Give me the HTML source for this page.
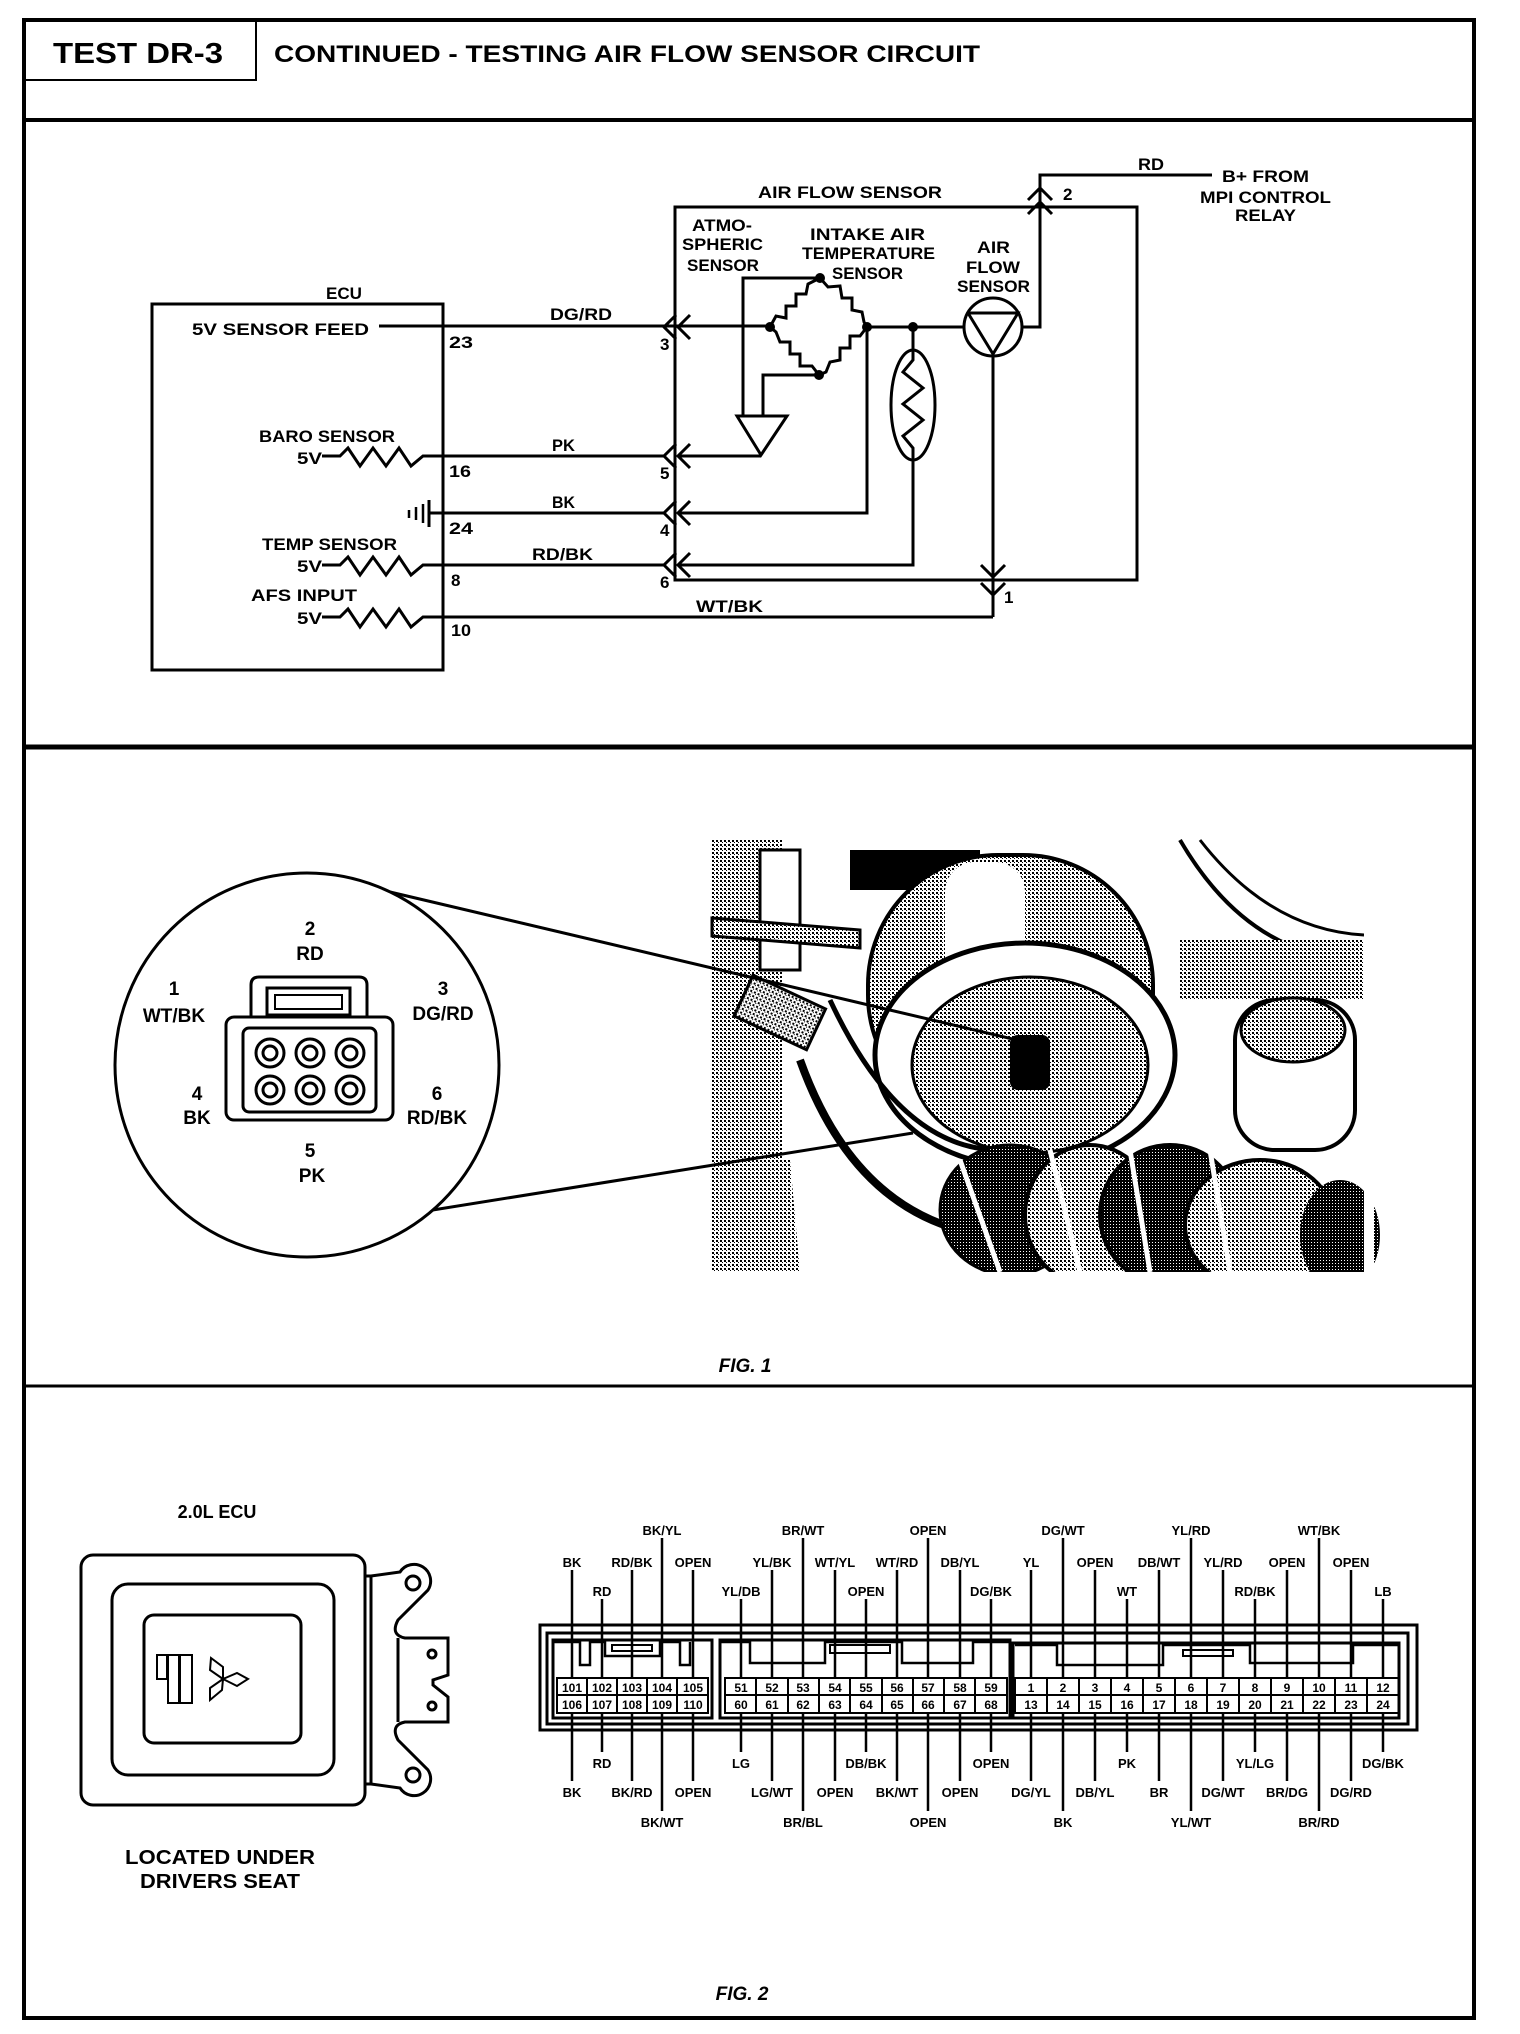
<!DOCTYPE html>
<html><head><meta charset="utf-8"><style>
html,body{margin:0;padding:0;background:#fff}
svg{display:block}
text{font-family:"Liberation Sans",sans-serif;font-weight:bold;fill:#000}
.c{font-size:17px}
.l{font-size:13px}
</style></head><body>
<svg width="1520" height="2034" viewBox="0 0 1520 2034" xmlns="http://www.w3.org/2000/svg">
<defs>
<pattern id="st" width="4" height="4" patternUnits="userSpaceOnUse"><rect width="4" height="4" fill="#fff"/><rect width="2" height="2" fill="#000"/><rect x="2" y="2" width="1" height="1" fill="#000"/></pattern>
<pattern id="dk" width="3" height="3" patternUnits="userSpaceOnUse"><rect width="3" height="3" fill="#000"/><rect width="1" height="1" fill="#fff"/></pattern>
</defs>
<!-- frame -->
<g fill="none" stroke="#000">
<rect x="24" y="20" width="1450" height="1998" stroke-width="4"/>
<line x1="24" y1="120" x2="1474" y2="120" stroke-width="4"/>
<line x1="24" y1="747" x2="1474" y2="747" stroke-width="5"/>
<line x1="24" y1="1386" x2="1474" y2="1386" stroke-width="3"/>
<polyline points="24,80 256,80 256,20" stroke-width="2"/>
</g>
<text x="53" y="63" font-size="29" textLength="170" lengthAdjust="spacingAndGlyphs">TEST DR-3</text>
<text x="274" y="62" font-size="24" textLength="706" lengthAdjust="spacingAndGlyphs">CONTINUED - TESTING AIR FLOW SENSOR CIRCUIT</text>

<!-- circuit -->
<g fill="none" stroke="#000" stroke-width="3">
<rect x="152" y="304" width="291" height="366"/>
<rect x="675" y="207" width="462" height="373"/>
<!-- wires -->
<line x1="379" y1="326" x2="770" y2="326"/>
<polyline points="322,456 340,456 348,448 360,466 373,448 386,466 399,448 411,466 423,456 664,456"/>
<polyline points="322,565 340,565 348,557 360,575 373,557 386,575 399,557 411,575 423,565 664,565"/>
<polyline points="322,617 340,617 348,609 360,627 373,609 386,627 399,609 411,627 423,617 993,617"/>
<line x1="429" y1="513" x2="664" y2="513"/>
<polyline points="678,456 761,456"/>
<polyline points="678,513 867,513 867,327"/>
<polyline points="678,565 913,565 913,460"/>
<polyline points="867,327 964,327"/>
<polyline points="913,327 913,350"/>
<polyline points="1022,327 1040,327 1040,175 1212,175"/>
<line x1="993" y1="356" x2="993" y2="617"/>
<polyline points="820,278 743,278 743,416"/>
<polyline points="819,375 763,375 763,416"/>
<polygon points="737,416 787,416 761,455"/>
<!-- bridge zigzag -->
<polyline points="770,327 776,316 786,318 786,306 796,306 796,294 806,294 808,284 820,278"/>
<polyline points="820,278 828,287 840,286 842,298 852,298 852,310 862,312 864,322 867,327"/>
<polyline points="867,327 860,336 850,336 850,348 840,348 840,360 830,362 826,372 819,375"/>
<polyline points="819,375 812,366 800,366 800,354 790,354 790,342 780,342 776,332 770,327"/>
<circle cx="993" cy="327" r="29"/>
<polyline points="968,313 1018,313 993,354 968,313"/>
<ellipse cx="913" cy="405" rx="22" ry="55"/>
<polyline points="913,350 913,360 903,372 923,388 903,404 923,420 903,436 913,448 913,460"/>
<!-- chevrons -->
<g stroke-width="3">
<path d="M676,315 L664,327 L676,339 M690,315 L678,327 L690,339"/>
<path d="M676,444 L664,456 L676,468 M690,444 L678,456 L690,468"/>
<path d="M676,501 L664,513 L676,525 M690,501 L678,513 L690,525"/>
<path d="M676,553 L664,565 L676,577 M690,553 L678,565 L690,577"/>
<path d="M1028,200 L1040,188 L1052,200 M1028,214 L1040,202 L1052,214"/>
<path d="M981,565 L993,577 L1005,565 M981,583 L993,595 L1005,583"/>
</g>
<!-- ground -->
<line x1="429" y1="500" x2="429" y2="527"/>
<line x1="423" y1="504" x2="423" y2="523" stroke-width="2.5"/>
<line x1="416" y1="507" x2="416" y2="520" stroke-width="2.5"/>
<line x1="409" y1="510" x2="409" y2="518" stroke-width="2.5"/>
</g>
<g fill="#000">
<circle cx="770" cy="327" r="5"/><circle cx="820" cy="278" r="5"/><circle cx="867" cy="327" r="5"/><circle cx="819" cy="375" r="5"/><circle cx="913" cy="327" r="5"/>
</g>
<g class="c">
<text x="326" y="299" textLength="36" lengthAdjust="spacingAndGlyphs">ECU</text>
<text x="192" y="335" textLength="177" lengthAdjust="spacingAndGlyphs">5V SENSOR FEED</text>
<text x="449" y="348" textLength="24" lengthAdjust="spacingAndGlyphs">23</text>
<text x="550" y="320" textLength="62" lengthAdjust="spacingAndGlyphs">DG/RD</text>
<text x="259" y="442" textLength="136" lengthAdjust="spacingAndGlyphs">BARO SENSOR</text>
<text x="297" y="464" textLength="25" lengthAdjust="spacingAndGlyphs">5V</text>
<text x="449" y="477" textLength="22" lengthAdjust="spacingAndGlyphs">16</text>
<text x="552" y="451" textLength="23" lengthAdjust="spacingAndGlyphs">PK</text>
<text x="449" y="534" textLength="24" lengthAdjust="spacingAndGlyphs">24</text>
<text x="552" y="508" textLength="23" lengthAdjust="spacingAndGlyphs">BK</text>
<text x="262" y="550" textLength="135" lengthAdjust="spacingAndGlyphs">TEMP SENSOR</text>
<text x="297" y="572" textLength="25" lengthAdjust="spacingAndGlyphs">5V</text>
<text x="451" y="586">8</text>
<text x="532" y="560" textLength="61" lengthAdjust="spacingAndGlyphs">RD/BK</text>
<text x="251" y="601" textLength="106" lengthAdjust="spacingAndGlyphs">AFS INPUT</text>
<text x="297" y="624" textLength="25" lengthAdjust="spacingAndGlyphs">5V</text>
<text x="451" y="636" textLength="20" lengthAdjust="spacingAndGlyphs">10</text>
<text x="696" y="612" textLength="67" lengthAdjust="spacingAndGlyphs">WT/BK</text>
<text x="1004" y="603">1</text>
<text x="660" y="350">3</text>
<text x="660" y="479">5</text>
<text x="660" y="536">4</text>
<text x="660" y="588">6</text>
<text x="758" y="198" textLength="184" lengthAdjust="spacingAndGlyphs">AIR FLOW SENSOR</text>
<text x="1063" y="200">2</text>
<text x="1138" y="170" textLength="26" lengthAdjust="spacingAndGlyphs">RD</text>
<text x="1222" y="182" textLength="87" lengthAdjust="spacingAndGlyphs">B+ FROM</text>
<text x="1200" y="203" textLength="131" lengthAdjust="spacingAndGlyphs">MPI CONTROL</text>
<text x="1235" y="221" textLength="61" lengthAdjust="spacingAndGlyphs">RELAY</text>
<text x="692" y="231" textLength="60" lengthAdjust="spacingAndGlyphs">ATMO-</text>
<text x="682" y="250" textLength="81" lengthAdjust="spacingAndGlyphs">SPHERIC</text>
<text x="687" y="271" textLength="72" lengthAdjust="spacingAndGlyphs">SENSOR</text>
<text x="810" y="240" textLength="115" lengthAdjust="spacingAndGlyphs">INTAKE AIR</text>
<text x="802" y="259" textLength="133" lengthAdjust="spacingAndGlyphs">TEMPERATURE</text>
<text x="832" y="279" textLength="71" lengthAdjust="spacingAndGlyphs">SENSOR</text>
<text x="977" y="253" textLength="33" lengthAdjust="spacingAndGlyphs">AIR</text>
<text x="966" y="273" textLength="54" lengthAdjust="spacingAndGlyphs">FLOW</text>
<text x="957" y="292" textLength="73" lengthAdjust="spacingAndGlyphs">SENSOR</text>
</g>

<!-- FIG 1 photo -->
<g>
<rect x="710" y="838" width="654" height="434" fill="#fff"/>
<rect x="712" y="840" width="70" height="430" fill="url(#st)"/>
<rect x="760" y="850" width="40" height="120" fill="#fff" stroke="#000" stroke-width="3"/>
<polygon points="712,918 860,930 860,948 712,936" fill="url(#st)" stroke="#000" stroke-width="3"/>
<polygon points="712,1150 790,1160 800,1272 712,1272" fill="url(#st)"/>
<rect x="740" y="990" width="80" height="45" fill="url(#st)" stroke="#000" stroke-width="3" transform="rotate(25 780 1012)"/>
<rect x="850" y="850" width="130" height="40" fill="#000"/>
<rect x="868" y="855" width="285" height="270" rx="130" fill="url(#st)" stroke="#000" stroke-width="4"/>
<rect x="945" y="862" width="80" height="140" rx="30" fill="#fff"/>
<path d="M1180,840 Q1250,960 1364,960" fill="none" stroke="#000" stroke-width="4"/>
<path d="M1200,840 Q1270,930 1364,935" fill="none" stroke="#000" stroke-width="3"/>
<rect x="1180" y="940" width="184" height="60" fill="url(#st)"/>
<ellipse cx="1025" cy="1055" rx="150" ry="112" fill="#fff" stroke="#000" stroke-width="5"/>
<ellipse cx="1030" cy="1065" rx="118" ry="88" fill="url(#st)" stroke="#000" stroke-width="3"/>
<rect x="1010" y="1035" width="40" height="55" rx="8" fill="#000"/>
<rect x="1235" y="1000" width="120" height="150" rx="40" fill="#fff" stroke="#000" stroke-width="4"/>
<ellipse cx="1293" cy="1030" rx="52" ry="32" fill="url(#st)" stroke="#000" stroke-width="3"/>
<path d="M800,1060 Q850,1200 960,1230" fill="none" stroke="#000" stroke-width="8"/>
<path d="M830,1000 Q900,1150 1000,1150" fill="none" stroke="#000" stroke-width="5"/>
<ellipse cx="1010" cy="1210" rx="70" ry="65" fill="url(#dk)" stroke="#000" stroke-width="3"/>
<ellipse cx="1090" cy="1215" rx="65" ry="70" fill="url(#st)" stroke="#000" stroke-width="4"/>
<ellipse cx="1170" cy="1215" rx="70" ry="70" fill="url(#dk)" stroke="#000" stroke-width="4"/>
<ellipse cx="1260" cy="1225" rx="75" ry="65" fill="url(#st)" stroke="#000" stroke-width="4"/>
<ellipse cx="1340" cy="1235" rx="40" ry="55" fill="url(#dk)"/>
<path d="M960,1160 L1000,1272 M1050,1150 L1080,1272 M1130,1150 L1150,1272 M1210,1150 L1230,1272" stroke="#fff" stroke-width="5"/>
<rect x="1364" y="838" width="10" height="440" fill="#fff"/>
<rect x="700" y="1272" width="680" height="20" fill="#fff"/>
</g>
<g fill="none" stroke="#000">
<line x1="390" y1="892" x2="1017" y2="1040" stroke-width="3"/>
<line x1="383" y1="1218" x2="913" y2="1133" stroke-width="3"/>
<circle cx="307" cy="1065" r="192" stroke-width="3" fill="#fff"/>
<rect x="226" y="1017" width="167" height="103" rx="8" stroke-width="3" fill="#fff"/>
<path d="M251,1017 V985 Q251,977 259,977 H359 Q367,977 367,985 V1017" stroke-width="3"/>
<rect x="267" y="988" width="83" height="27" stroke-width="3"/>
<rect x="275" y="995" width="67" height="14" stroke-width="2"/>
<rect x="243" y="1028" width="133" height="84" rx="6" stroke-width="3"/>
<g stroke-width="3">
<circle cx="270" cy="1053" r="14"/><circle cx="310" cy="1053" r="14"/><circle cx="350" cy="1053" r="14"/>
<circle cx="270" cy="1090" r="14"/><circle cx="310" cy="1090" r="14"/><circle cx="350" cy="1090" r="14"/>
<circle cx="270" cy="1053" r="7"/><circle cx="310" cy="1053" r="7"/><circle cx="350" cy="1053" r="7"/>
<circle cx="270" cy="1090" r="7"/><circle cx="310" cy="1090" r="7"/><circle cx="350" cy="1090" r="7"/>
</g>
</g>
<g font-size="19" text-anchor="middle">
<text x="310" y="935">2</text><text x="310" y="960">RD</text>
<text x="174" y="995">1</text><text x="174" y="1022">WT/BK</text>
<text x="443" y="995">3</text><text x="443" y="1020">DG/RD</text>
<text x="197" y="1100">4</text><text x="197" y="1124">BK</text>
<text x="437" y="1100">6</text><text x="437" y="1124">RD/BK</text>
<text x="310" y="1157">5</text><text x="312" y="1182">PK</text>
</g>
<text x="745" y="1372" font-size="19" font-style="italic" text-anchor="middle">FIG. 1</text>

<!-- FIG 2 ECU -->
<text x="217" y="1518" font-size="18" text-anchor="middle">2.0L ECU</text>
<g fill="none" stroke="#000" stroke-width="3">
<rect x="81" y="1555" width="284" height="250" rx="12"/>
<rect x="112" y="1584" width="222" height="191" rx="16"/>
<rect x="144" y="1615" width="157" height="128" rx="10"/>
<rect x="157" y="1655" width="10" height="24" stroke-width="2"/>
<rect x="168" y="1655" width="11" height="48" stroke-width="2"/>
<rect x="180" y="1655" width="12" height="48" stroke-width="2"/>
<path d="M223,1679 L210,1670 L211,1658 L223,1667 Z M223,1679 L237,1673 L248,1679 L237,1686 Z M223,1679 L210,1688 L210,1700 L222,1690 Z" stroke-width="2"/>
<rect x="365" y="1576" width="6" height="208"/>
<path d="M371,1576 L400,1572 A15,15 0 0 1 428,1590 L398,1620 Q390,1635 405,1638 L448,1638 L448,1675 L433,1680 L433,1685 L448,1697 L448,1722 L405,1722 Q390,1725 398,1740 L428,1770 A15,15 0 0 1 400,1788 L371,1784"/>
<circle cx="413" cy="1583" r="7"/><circle cx="413" cy="1775" r="7"/>
<circle cx="432" cy="1654" r="4"/><circle cx="432" cy="1706" r="4"/>
<line x1="398" y1="1638" x2="398" y2="1722"/>
</g>
<text x="220" y="1864" font-size="20" text-anchor="middle" textLength="190" lengthAdjust="spacingAndGlyphs">LOCATED UNDER</text>
<text x="220" y="1888" font-size="20" text-anchor="middle" textLength="160" lengthAdjust="spacingAndGlyphs">DRIVERS SEAT</text>

<!-- FIG 2 connector -->
<g fill="none" stroke="#000" stroke-width="3">
<rect x="540" y="1625" width="877" height="105"/>
<rect x="547" y="1633" width="861" height="91"/>
<rect x="553" y="1640" width="159" height="78"/>
<rect x="720" y="1640" width="290" height="78"/>
<rect x="1013" y="1643" width="386" height="75"/>
<path d="M553,1642 H580 V1665 H590 V1642 H605 V1656 H660 V1642 H680 V1665 H690 V1642" stroke-width="2.5"/>
<rect x="612" y="1645" width="40" height="6" stroke-width="2"/>
<path d="M720,1642 H750 V1663 H825 V1642 H902 V1663 H973 V1642 H1010" stroke-width="2.5"/>
<rect x="830" y="1645" width="60" height="8" stroke-width="2"/>
<path d="M1015,1645 H1057 V1665 H1163 V1645 H1250 V1663 H1353 V1645 H1399" stroke-width="2.5"/>
<rect x="1183" y="1650" width="50" height="6" stroke-width="2"/>
</g>
<g id="cells" fill="none" stroke="#000" stroke-width="2">
<rect x="557" y="1678" width="151" height="35"/>
<rect x="725" y="1678" width="282" height="35"/>
<rect x="1015" y="1678" width="384" height="35"/>
<line x1="557" y1="1695" x2="708" y2="1695"/><line x1="725" y1="1695" x2="1007" y2="1695"/><line x1="1015" y1="1695" x2="1399" y2="1695"/>
<path d="M587,1678V1713M617,1678V1713M647,1678V1713M677,1678V1713"/>
<path d="M756,1678V1713M788,1678V1713M819,1678V1713M850,1678V1713M882,1678V1713M913,1678V1713M944,1678V1713M975,1678V1713"/>
<path d="M1047,1678V1713M1079,1678V1713M1111,1678V1713M1143,1678V1713M1175,1678V1713M1207,1678V1713M1239,1678V1713M1271,1678V1713M1303,1678V1713M1335,1678V1713M1367,1678V1713"/>
</g>
<g font-size="12" text-anchor="middle">
<text x="572" y="1692">101</text><text x="602" y="1692">102</text><text x="632" y="1692">103</text><text x="662" y="1692">104</text><text x="693" y="1692">105</text>
<text x="572" y="1709">106</text><text x="602" y="1709">107</text><text x="632" y="1709">108</text><text x="662" y="1709">109</text><text x="693" y="1709">110</text>
<text x="741" y="1692">51</text><text x="772" y="1692">52</text><text x="803" y="1692">53</text><text x="835" y="1692">54</text><text x="866" y="1692">55</text><text x="897" y="1692">56</text><text x="928" y="1692">57</text><text x="960" y="1692">58</text><text x="991" y="1692">59</text>
<text x="741" y="1709">60</text><text x="772" y="1709">61</text><text x="803" y="1709">62</text><text x="835" y="1709">63</text><text x="866" y="1709">64</text><text x="897" y="1709">65</text><text x="928" y="1709">66</text><text x="960" y="1709">67</text><text x="991" y="1709">68</text>
<text x="1031" y="1692">1</text><text x="1063" y="1692">2</text><text x="1095" y="1692">3</text><text x="1127" y="1692">4</text><text x="1159" y="1692">5</text><text x="1191" y="1692">6</text><text x="1223" y="1692">7</text><text x="1255" y="1692">8</text><text x="1287" y="1692">9</text><text x="1319" y="1692">10</text><text x="1351" y="1692">11</text><text x="1383" y="1692">12</text>
<text x="1031" y="1709">13</text><text x="1063" y="1709">14</text><text x="1095" y="1709">15</text><text x="1127" y="1709">16</text><text x="1159" y="1709">17</text><text x="1191" y="1709">18</text><text x="1223" y="1709">19</text><text x="1255" y="1709">20</text><text x="1287" y="1709">21</text><text x="1319" y="1709">22</text><text x="1351" y="1709">23</text><text x="1383" y="1709">24</text>
</g>
<!-- label leader lines -->
<g stroke="#000" stroke-width="2.5">
<!-- top row c (y1530) -->
<path d="M662,1538V1678M803,1538V1678M928,1538V1678M1063,1538V1678M1191,1538V1678M1319,1538V1678"/>
<!-- top row a (1562) -->
<path d="M572,1570V1678M632,1570V1678M693,1570V1678M772,1570V1678M835,1570V1678M897,1570V1678M960,1570V1678M1031,1570V1678M1095,1570V1678M1159,1570V1678M1223,1570V1678M1287,1570V1678M1351,1570V1678"/>
<!-- top row b (1591) -->
<path d="M602,1599V1678M741,1599V1678M866,1599V1678M991,1599V1678M1127,1599V1678M1255,1599V1678M1383,1599V1678"/>
<!-- bottom row d (1763) -->
<path d="M602,1713V1752M741,1713V1752M866,1713V1752M991,1713V1752M1127,1713V1752M1255,1713V1752M1383,1713V1752"/>
<!-- bottom row e (1792) -->
<path d="M572,1713V1781M632,1713V1781M693,1713V1781M772,1713V1781M835,1713V1781M897,1713V1781M960,1713V1781M1031,1713V1781M1095,1713V1781M1159,1713V1781M1223,1713V1781M1287,1713V1781M1351,1713V1781"/>
<!-- bottom row f (1822) -->
<path d="M662,1713V1811M803,1713V1811M928,1713V1811M1063,1713V1811M1191,1713V1811M1319,1713V1811"/>
</g>
<g class="l" text-anchor="middle">
<text x="662" y="1535">BK/YL</text><text x="803" y="1535">BR/WT</text><text x="928" y="1535">OPEN</text><text x="1063" y="1535">DG/WT</text><text x="1191" y="1535">YL/RD</text><text x="1319" y="1535">WT/BK</text>
<text x="572" y="1567">BK</text><text x="632" y="1567">RD/BK</text><text x="693" y="1567">OPEN</text><text x="772" y="1567">YL/BK</text><text x="835" y="1567">WT/YL</text><text x="897" y="1567">WT/RD</text><text x="960" y="1567">DB/YL</text><text x="1031" y="1567">YL</text><text x="1095" y="1567">OPEN</text><text x="1159" y="1567">DB/WT</text><text x="1223" y="1567">YL/RD</text><text x="1287" y="1567">OPEN</text><text x="1351" y="1567">OPEN</text>
<text x="602" y="1596">RD</text><text x="741" y="1596">YL/DB</text><text x="866" y="1596">OPEN</text><text x="991" y="1596">DG/BK</text><text x="1127" y="1596">WT</text><text x="1255" y="1596">RD/BK</text><text x="1383" y="1596">LB</text>
<text x="602" y="1768">RD</text><text x="741" y="1768">LG</text><text x="866" y="1768">DB/BK</text><text x="991" y="1768">OPEN</text><text x="1127" y="1768">PK</text><text x="1255" y="1768">YL/LG</text><text x="1383" y="1768">DG/BK</text>
<text x="572" y="1797">BK</text><text x="632" y="1797">BK/RD</text><text x="693" y="1797">OPEN</text><text x="772" y="1797">LG/WT</text><text x="835" y="1797">OPEN</text><text x="897" y="1797">BK/WT</text><text x="960" y="1797">OPEN</text><text x="1031" y="1797">DG/YL</text><text x="1095" y="1797">DB/YL</text><text x="1159" y="1797">BR</text><text x="1223" y="1797">DG/WT</text><text x="1287" y="1797">BR/DG</text><text x="1351" y="1797">DG/RD</text>
<text x="662" y="1827">BK/WT</text><text x="803" y="1827">BR/BL</text><text x="928" y="1827">OPEN</text><text x="1063" y="1827">BK</text><text x="1191" y="1827">YL/WT</text><text x="1319" y="1827">BR/RD</text>
</g>
<text x="742" y="2000" font-size="19" font-style="italic" text-anchor="middle">FIG. 2</text>
</svg>
</body></html>
